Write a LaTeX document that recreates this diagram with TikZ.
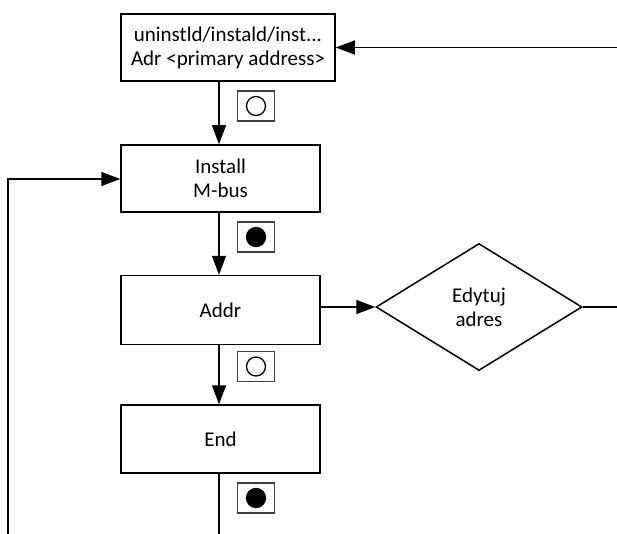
\documentclass[tikz,border=0pt]{standalone}
\usepackage{fontspec}
\setmainfont{Carlito}
\usetikzlibrary{arrows.meta,shapes.geometric}
\begin{document}
\begin{tikzpicture}[x=1pt,y=-1pt,
  every node/.style={font=\fontsize{21}{24}\selectfont},
  stepbox/.style={draw,line width=1.5pt,minimum width=199pt,minimum height=67pt,inner sep=0pt,align=center},
  decision/.style={draw,diamond,line width=1.5pt,minimum width=206pt,minimum height=127pt,aspect=1.62,inner sep=0pt,align=center},
  flow/.style={line width=1.5pt},
  arr/.style={flow,-{Triangle[length=19pt,width=14pt]}},
  keyframe/.style={draw=black!75,line width=1.3pt,minimum width=37pt,minimum height=30pt,inner sep=0pt},
  keycircle/.style={circle,draw,line width=1.3pt,minimum size=19pt,inner sep=0pt}
]
\useasboundingbox (0,0) rectangle (617,534);

% menu entries
\node[stepbox,minimum width=214pt] (Top) at (228,47.5) {uninstld/instald/inst...\\Adr <primary address>};
\node[stepbox] (Install) at (220.5,178.5) {Install\\M-bus};
\node[stepbox,minimum height=69pt] (Addr) at (220.5,310) {Addr};
\node[stepbox,minimum height=68pt] (End) at (220.5,439) {End};
\node[decision,minimum width=206pt,minimum height=127pt] (Edit) at (479,307) {Edytuj\\adres};

% spine and loose ends
\coordinate (sp) at (219,0);
\coordinate (inR) at (617,47.5);
\coordinate (outR) at (617,307);
\coordinate (loopB) at (8,534);
\coordinate (loopT) at (8,179);
\coordinate (endB) at (219,534);

% connectors
\draw[arr] (inR) -- (Top.east);
\draw[arr] (Top.south -| sp) -- (Install.north -| sp);
\draw[arr] (Install.south -| sp) -- (Addr.north -| sp);
\draw[arr] (Addr.south -| sp) -- (End.north -| sp);
\draw[flow] (End.south -| sp) -- (endB);
\draw[arr] (loopB) -- (loopT) -- (loopT -| Install.west);
\draw[arr] (Addr.east |- Edit.west) -- (Edit.west);
\draw[flow] (Edit.east) -- (outR);

% key symbols
\node[keyframe] (k1) at (256,106) {};
\node[keycircle] (c1) at (k1) {};
\node[keyframe] (k2) at (256,237) {};
\node[keycircle,fill=black] (c2) at (k2) {};
\node[keyframe] (k3) at (256,366.5) {};
\node[keycircle] (c3) at (k3) {};
\node[keyframe] (k4) at (256,498) {};
\node[keycircle,fill=black] (c4) at (k4) {};
\end{tikzpicture}
\end{document}
